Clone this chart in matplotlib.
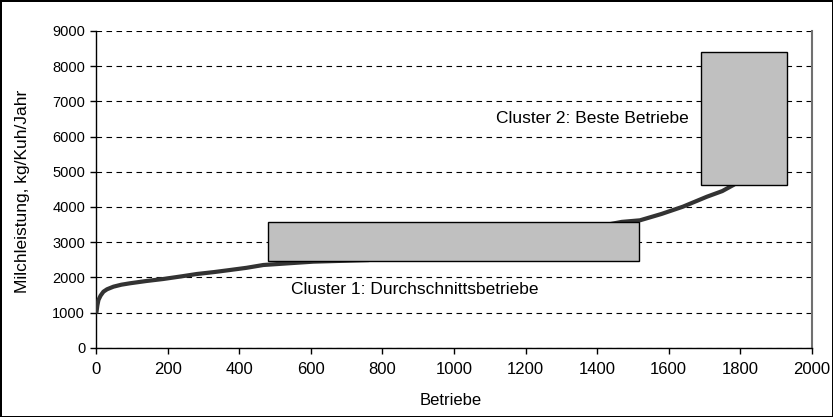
import matplotlib
matplotlib.use('Agg')
import matplotlib.pyplot as plt
from matplotlib.patches import Rectangle

plt.rcParams['font.family'] = ['Liberation Sans', 'DejaVu Sans']
plt.rcParams['font.size'] = 10.5

# sorted milk yield per farm
betriebe = [0, 3, 6, 12, 20, 30, 48, 70, 94, 140, 187, 240, 281, 330, 374, 420, 467,
            540, 607, 700, 760, 900, 1100, 1300, 1469, 1520, 1580, 1640, 1707, 1750, 1781, 1800]
milch = [970, 1200, 1355, 1480, 1592, 1660, 1734, 1790, 1830, 1895, 1952, 2030, 2094,
         2150, 2208, 2270, 2350, 2400, 2445, 2472, 2490, 2650, 2900, 3250, 3575, 3620,
         3800, 4007, 4290, 4450, 4623, 4750]

# cluster boxes: (x0, x1, y0, y1)
cluster1 = (481, 1518, 2455, 3572)
cluster2 = (1690, 1930, 4623, 8403)
cluster1_label = 'Cluster 1: Durchschnittsbetriebe'
cluster2_label = 'Cluster 2: Beste Betriebe'

fig = plt.figure(figsize=(8.33, 4.17), dpi=100, edgecolor='black', linewidth=2)
ax = fig.add_axes([0.1156, 0.1662, 0.9744 - 0.1156, 0.9257 - 0.1662])

ax.plot(betriebe, milch, color='#333333', lw=3, zorder=3, solid_capstyle='butt')

for (x0, x1, y0, y1) in [cluster1, cluster2]:
    ax.add_patch(Rectangle((x0, y0), x1 - x0, y1 - y0, facecolor='#c0c0c0',
                           edgecolor='black', lw=1, zorder=4))

ax.text(543, 1640, cluster1_label, ha='left', va='center', fontsize=12.5, zorder=5)
ax.text(1117, 6527, cluster2_label, ha='left', va='center', fontsize=12.5, zorder=5)

ax.set_xlim(0, 2000)
ax.set_ylim(0, 9000)
ax.set_xticks(range(0, 2001, 200))
ax.set_yticks(range(0, 9001, 1000))
ax.yaxis.grid(True, linestyle=(0, (5, 4)), color='black', lw=0.8)
ax.set_axisbelow(True)
ax.tick_params(direction='out', length=4, width=1, labelsize=10.5)
ax.tick_params(axis='x', labelsize=12, pad=6)
ax.tick_params(axis='y', pad=4)

ax.spines['top'].set_visible(False)
ax.spines['right'].set_color('#707070')
ax.spines['right'].set_linewidth(1.5)
ax.spines['left'].set_linewidth(1)
ax.spines['bottom'].set_linewidth(1)

ax.set_xlabel('Betriebe', fontsize=12)
ax.set_ylabel('Milchleistung, kg/Kuh/Jahr', fontsize=12.5)
ax.xaxis.label.set_va('center')
ax.yaxis.label.set_va('center')
ax.xaxis.set_label_coords(0.495, -0.168)
ax.yaxis.set_label_coords(-0.103, 0.493)

fig.savefig('out.png', dpi=100)
